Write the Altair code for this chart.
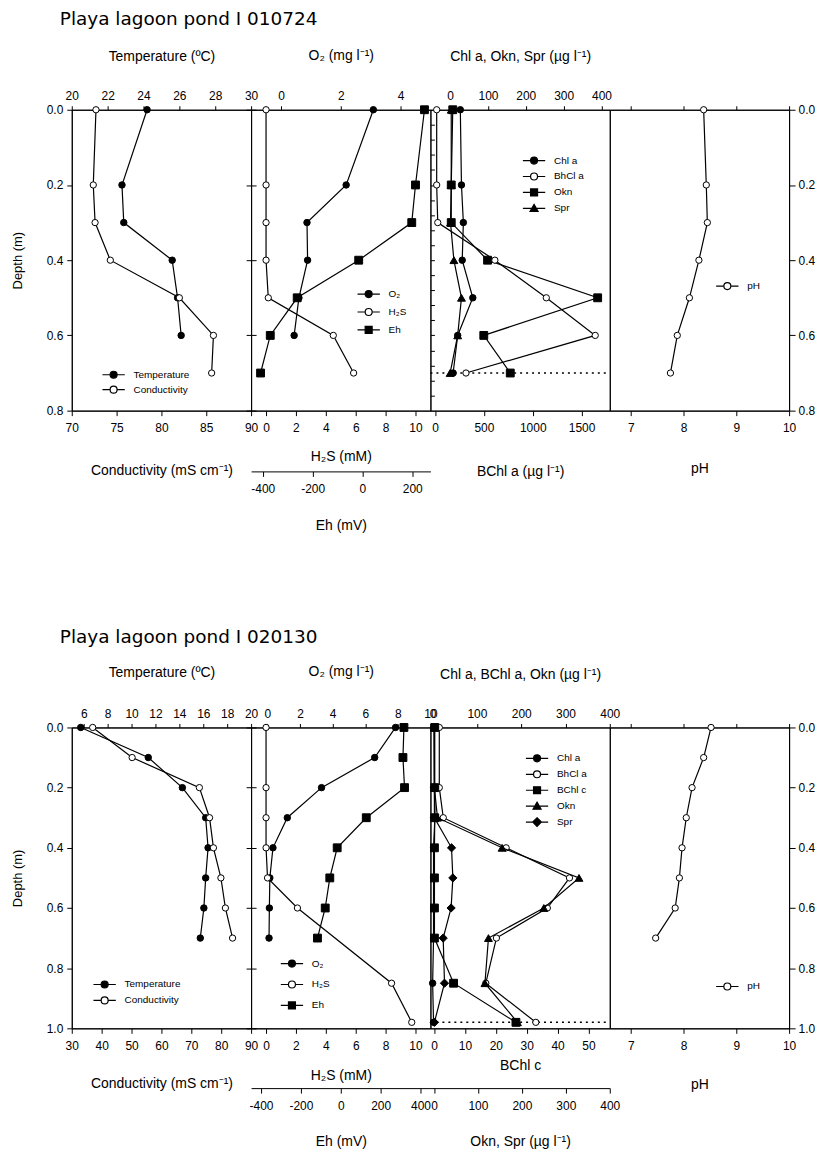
import altair as alt
import pandas as pd

FONT = "Liberation Sans"
TITLE_FONT = "DejaVu Sans"

# ---------------- Playa lagoon pond I 010724 ----------------
title_a = "Playa lagoon pond I 010724"
depth_a = [0.0, 0.2, 0.3, 0.4, 0.5, 0.6, 0.7]
depth_short_a = [0.0, 0.2, 0.3, 0.4, 0.5, 0.6]
temperature_a = [24.2, 22.8, 22.9, 25.6, 25.9, 26.1]
conductivity_a = [72.7, 72.4, 72.6, 74.3, 82.0, 85.8, 85.6]
o2_a = [3.09, 2.18, 0.87, 0.89, 0.60, 0.44]
h2s_a = [0.0, 0.0, 0.0, 0.0, 0.15, 4.5, 5.86]
eh_a = [249, 213, 198, -15, -262, -370, -409]
chla_a = [27, 30, 35, 32, 60, 20, 8]
bchla_a = [16, 16, 27, 612, 1139, 1640, 316]
okn_a = [7, 3, 3, 99, 390, 89, 159]
spr_a = [3, 3, 1, 10, 30, 20, 0]
ph_a = [8.38, 8.43, 8.45, 8.29, 8.11, 7.88, 7.75]
dotted_a = [0.7]

# ---------------- Playa lagoon pond I 020130 ----------------
title_b = "Playa lagoon pond I 020130"
depth_b = [0.0, 0.1, 0.2, 0.3, 0.4, 0.5, 0.6, 0.7]
temperature_b = [5.75, 11.4, 14.25, 16.2, 16.4, 16.2, 16.05, 15.75]
conductivity_b = [37.0, 50.2, 72.7, 76.1, 77.4, 79.9, 81.4, 83.8]
o2_b = [7.86, 6.58, 3.32, 1.22, 0.34, 0.15, 0.12, 0.10]
h2s_depth_b = [0.0, 0.2, 0.3, 0.4, 0.5, 0.6, 0.85, 0.98]
h2s_b = [0.0, 0.0, 0.0, 0.0, 0.1, 2.1, 8.4, 9.75]
eh_b = [317, 312, 320, 128, -18, -55, -78, -117]
pig_depth_b = [0.0, 0.2, 0.3, 0.4, 0.5, 0.6, 0.7, 0.85, 0.98]
chla_b = [3, 4, 5, 2, 2, 2, 2, 0, 2]
bchla_b = [15, 15, 24, 166, 309, 259, 144, 120, 233]
bchlc_b = [0.2, 0.2, 0.2, 0.1, 0.1, 0.1, 0.1, 6.3, 26.5]
okn_b = [1, 1, 8, 155, 330, 250, 124, 116, 190]
spr_b = [1, 1, 1, 40, 43, 39, 21, 24, 1]
ph_b = [8.52, 8.38, 8.16, 8.05, 7.97, 7.92, 7.84, 7.47]
dotted_b = [0.98]

# ---------------- axis ticks / domains ----------------
depth_ticks_a = [0.0, 0.2, 0.4, 0.6, 0.8]
depth_ticks_b = [0.0, 0.2, 0.4, 0.6, 0.8, 1.0]
minor_ticks_a = [0.04, 0.08, 0.12, 0.16, 0.2, 0.24, 0.28, 0.32, 0.36, 0.4,
                 0.44, 0.48, 0.52, 0.56, 0.6, 0.64, 0.68, 0.72, 0.76]
temp_ticks_a = [20, 22, 24, 26, 28, 30]
temp_ticks_b = [6, 8, 10, 12, 14, 16, 18, 20]
cond_ticks_a = [70, 75, 80, 85, 90]
cond_ticks_b = [30, 40, 50, 60, 70, 80, 90]
o2_ticks_a = [0, 2, 4]
o2_ticks_b = [0, 2, 4, 6, 8, 10]
h2s_ticks = [0, 2, 4, 6, 8, 10]
eh_ticks_a = [-400, -200, 0, 200]
eh_ticks_b = [-400, -200, 0, 200, 400]
chl_ticks = [0, 100, 200, 300, 400]
bchla_ticks = [0, 500, 1000, 1500]
bchlc_ticks = [0, 10, 20, 30, 40, 50]
ph_ticks = [7, 8, 9, 10]

temp_dom_a, temp_dom_b = [20, 30], [5, 20]
cond_dom_a, cond_dom_b = [70, 90], [30, 90]
o2_dom_a, o2_dom_b = [-1, 5], [-1, 10]
h2s_dom = [-1, 11]
eh_dom_a, eh_dom_b = [-447, 273], [-450, 450]
chl_dom_a, chl_dom_b = [-52, 422], [-5, 400]
bchla_dom_a = [-48, 1789]
bchlc_dom_b = [-1.2, 56.9]
oknspr_dom_b = [-8, 400]
ph_dom = [6.6, 10]

PW, PH = 180, 302
NUM_EXPR = "datum.value < 0 ? '-' + format(-datum.value, 'd') : format(datum.value, 'd')"

LEG_PATH = {
    "fcircle": "M-3.2,0H-1M1,0H3.2M1,0A1,1,0,1,1,-1,0A1,1,0,1,1,1,0Z",
    "ocircle": "M-3.2,0H-1M1,0H3.2M1,0A1,1,0,1,1,-1,0A1,1,0,1,1,1,0Z",
    "square": "M-3.2,0H-1M1,0H3.2M-1,-1H1V1H-1Z",
    "triangle": "M-3.2,0H-0.66M0.66,0H3.2M0,-1.15L1.15,0.85H-1.15Z",
    "diamond": "M-3.2,0H-1.2M1.2,0H3.2M0,-1.25L1.25,0L0,1.25L-1.25,0Z",
}
LEG_FILL = {"fcircle": "black", "ocircle": "white", "square": "black",
            "triangle": "black", "diamond": "black"}


def pts_style(kind):
    base = dict(opacity=1, strokeWidth=1, stroke="black", filled=True)
    if kind == "fcircle":
        return dict(base, shape="circle", fill="black", size=42)
    if kind == "ocircle":
        return dict(base, shape="circle", fill="white", size=40)
    if kind == "square":
        return dict(base, shape="square", fill="black", size=62)
    if kind == "triangle":
        return dict(base, shape="triangle-up", fill="black", size=62)
    return dict(base, shape="diamond", fill="black", size=68)


def yscale(ymax):
    return alt.Scale(domain=[0, ymax], reverse=True, nice=False, zero=False)


def xscale(domain):
    return alt.Scale(domain=domain, nice=False, zero=False)


def top_axis(values, title, pad, labels=True):
    if labels:
        return alt.Axis(orient="top", values=values, title=title, titlePadding=pad,
                        tickSize=4, labelPadding=3, labelFlush=False,
                        labelOverlap=False, labelExpr=NUM_EXPR)
    return alt.Axis(orient="top", values=values, title=None, tickSize=4, labels=False)


def bottom_axis(values, title, pad, offset=0):
    return alt.Axis(orient="bottom", values=values, title=title, titlePadding=pad,
                    tickSize=5, labelPadding=7, labelFlush=False, offset=offset,
                    labelOverlap=False, labelExpr=NUM_EXPR)


def y_left(ticks):
    return alt.Axis(orient="left", values=ticks, format=".1f", title="Depth (m)",
                    titleFontSize=13, titlePadding=22, tickSize=5, labelPadding=4,
                    labelFlush=False)


def y_right_labels(ticks):
    return alt.Axis(orient="right", values=ticks, format=".1f", title=None,
                    tickSize=6, labelPadding=3, labelFlush=False)


def y_ticks(orient, ticks, size):
    return alt.Axis(orient=orient, values=ticks, labels=False, title=None,
                    tickSize=size, domain=False)


def series(depths, values, kind, domain, ysc, xaxis=None, yaxes=()):
    """Line + markers of one profile; optional extra invisible layers carrying y axes."""
    data = pd.DataFrame({"depth": depths, "value": values})
    xs = xscale(domain)
    y_plain = alt.Y("depth:Q", scale=ysc, axis=None)
    layers = [
        alt.Chart(data).mark_line(color="black", strokeWidth=1.2).encode(
            x=alt.X("value:Q", scale=xs, axis=xaxis), y=y_plain, order=alt.Order("depth:Q")),
        alt.Chart(data).mark_point(**pts_style(kind)).encode(
            x=alt.X("value:Q", scale=xs, axis=None), y=y_plain),
    ]
    for yax in yaxes:
        layers.append(alt.Chart(data).mark_point(opacity=0).encode(
            x=alt.X("value:Q", scale=xs, axis=None),
            y=alt.Y("depth:Q", scale=ysc, axis=yax)))
    return layers


def x_axis_only(values, domain, ysc, axis):
    data = pd.DataFrame({"value": values, "depth": [0.0] * len(values)})
    return alt.Chart(data).mark_point(opacity=0).encode(
        x=alt.X("value:Q", scale=xscale(domain), axis=axis),
        y=alt.Y("depth:Q", scale=ysc, axis=None))


def legend_layer(names, kinds, domain, ysc, lx, ly, gap):
    data = pd.DataFrame({"series": names})
    leg = alt.Legend(orient="none", legendX=lx, legendY=ly, title=None,
                     labelFont=FONT, labelFontSize=10, labelColor="black",
                     symbolSize=49, symbolStrokeWidth=1.2,
                     symbolOffset=7, labelOffset=15, clipHeight=12,
                     rowPadding=gap - 12, padding=0)
    n = len(names)
    return alt.Chart(data).mark_point(filled=True, opacity=1).encode(
        x=alt.X("value:Q", scale=xscale(domain), axis=None),
        y=alt.Y("depth:Q", scale=ysc, axis=None),
        shape=alt.Shape("series:N", scale=alt.Scale(domain=names, range=[LEG_PATH[k] for k in kinds]), legend=leg),
        fill=alt.Fill("series:N", scale=alt.Scale(domain=names, range=[LEG_FILL[k] for k in kinds]), legend=leg),
        stroke=alt.Stroke("series:N", scale=alt.Scale(domain=names, range=["black"] * n), legend=leg),
    ).transform_filter("false")


def dotted(depths, domain, ysc):
    data = pd.DataFrame({"depth": depths})
    return alt.Chart(data).mark_rule(color="black", strokeWidth=1.6, strokeDash=[2, 4]).encode(
        x=alt.XDatum(domain[0], type="quantitative", scale=xscale(domain), axis=None),
        x2=alt.X2Datum(domain[1]),
        y=alt.Y("depth:Q", scale=ysc, axis=None))


def panel(*groups):
    layers = []
    for g in groups:
        if isinstance(g, list):
            layers += g
        else:
            layers.append(g)
    return alt.layer(*layers).resolve_scale(x="independent").resolve_axis(
        y="independent").properties(width=PW, height=PH)


# ---------------- top figure ----------------
ya = yscale(0.8)
p1a = panel(
    series(depth_short_a, temperature_a, "fcircle", temp_dom_a, ya,
           top_axis(temp_ticks_a, "Temperature (ºC)", 26),
           yaxes=[y_left(depth_ticks_a), y_ticks("right", depth_ticks_a, 5)]),
    series(depth_a, conductivity_a, "ocircle", cond_dom_a, ya,
           bottom_axis(cond_ticks_a, "Conductivity (mS cm⁻¹)", 30)),
    legend_layer(["Temperature", "Conductivity"], ["fcircle", "ocircle"], cond_dom_a, ya, 30, 260, 15),
)
p2a = panel(
    series(depth_short_a, o2_a, "fcircle", o2_dom_a, ya,
           top_axis(o2_ticks_a, "O₂ (mg l⁻¹)", 27),
           yaxes=[y_ticks("left", depth_ticks_a, 5), y_ticks("right", minor_ticks_a, 4)]),
    series(depth_a, h2s_a, "ocircle", h2s_dom, ya, bottom_axis(h2s_ticks, "H₂S (mM)", 16)),
    series(depth_a, eh_a, "square", eh_dom_a, ya, bottom_axis(eh_ticks_a, "Eh (mV)", 24, offset=61)),
    legend_layer(["O₂", "H₂S", "Eh"], ["fcircle", "ocircle", "square"], h2s_dom, ya, 106, 179, 18),
)
p3a = panel(
    dotted(dotted_a, chl_dom_a, ya),
    series(depth_a, chla_a, "fcircle", chl_dom_a, ya,
           top_axis(chl_ticks, "Chl a, Okn, Spr  (µg l⁻¹)", 26)),
    series(depth_a, okn_a, "square", chl_dom_a, ya),
    series(depth_a, spr_a, "triangle", chl_dom_a, ya),
    series(depth_a, bchla_a, "ocircle", bchla_dom_a, ya,
           bottom_axis(bchla_ticks, "BChl a (µg l⁻¹)", 31)),
    legend_layer(["Chl a", "BhCl a", "Okn", "Spr"],
                 ["fcircle", "ocircle", "square", "triangle"], chl_dom_a, ya, 92, 45, 16),
)
p4a = panel(
    x_axis_only(ph_ticks, ph_dom, ya, top_axis(ph_ticks, None, 0, labels=False)),
    series(depth_a, ph_a, "ocircle", ph_dom, ya, bottom_axis(ph_ticks, "pH", 28),
           yaxes=[y_right_labels(depth_ticks_a)]),
    legend_layer(["pH"], ["ocircle"], ph_dom, ya, 106, 171, 16),
)

# ---------------- bottom figure ----------------
yb = yscale(1.0)
p1b = panel(
    series(depth_b, temperature_b, "fcircle", temp_dom_b, yb,
           top_axis(temp_ticks_b, "Temperature (ºC)", 28),
           yaxes=[y_left(depth_ticks_b), y_ticks("right", depth_ticks_b, 5)]),
    series(depth_b, conductivity_b, "ocircle", cond_dom_b, yb,
           bottom_axis(cond_ticks_b, "Conductivity (mS cm⁻¹)", 25)),
    legend_layer(["Temperature", "Conductivity"], ["fcircle", "ocircle"], cond_dom_b, yb, 21, 252, 16),
)
p2b = panel(
    series(depth_b, o2_b, "fcircle", o2_dom_b, yb,
           top_axis(o2_ticks_b, "O₂ (mg l⁻¹)", 29),
           yaxes=[y_ticks("left", depth_ticks_b, 5)]),
    series(h2s_depth_b, h2s_b, "ocircle", h2s_dom, yb, bottom_axis(h2s_ticks, "H₂S (mM)", 17)),
    series(depth_b, eh_b, "square", eh_dom_b, yb, bottom_axis(eh_ticks_b, "Eh (mV)", 24, offset=60)),
    legend_layer(["O₂", "H₂S", "Eh"], ["fcircle", "ocircle", "square"], h2s_dom, yb, 29, 231, 21),
)
p3b = panel(
    dotted(dotted_b, chl_dom_b, yb),
    series(pig_depth_b, chla_b, "fcircle", chl_dom_b, yb,
           top_axis(chl_ticks, "Chl a, BChl a, Okn  (µg l⁻¹)", 26)),
    series(pig_depth_b, bchla_b, "ocircle", chl_dom_b, yb),
    series(pig_depth_b, bchlc_b, "square", bchlc_dom_b, yb,
           bottom_axis(bchlc_ticks, "BChl  c", 7)),
    series(pig_depth_b, okn_b, "triangle", oknspr_dom_b, yb,
           bottom_axis(chl_ticks, "Okn, Spr (µg l⁻¹)", 24, offset=60)),
    series(pig_depth_b, spr_b, "diamond", oknspr_dom_b, yb),
    legend_layer(["Chl a", "BhCl a", "BChl c", "Okn", "Spr"],
                 ["fcircle", "ocircle", "square", "triangle", "diamond"], chl_dom_b, yb, 95, 25, 16),
)
p4b = panel(
    x_axis_only(ph_ticks, ph_dom, yb, top_axis(ph_ticks, None, 0, labels=False)),
    series(depth_b, ph_b, "ocircle", ph_dom, yb, bottom_axis(ph_ticks, "pH", 26),
           yaxes=[y_right_labels(depth_ticks_b)]),
    legend_layer(["pH"], ["ocircle"], ph_dom, yb, 106, 254, 16),
)


def fig_title(text, offset):
    return alt.TitleParams(text=text, anchor="start", frame="group", font=TITLE_FONT,
                           fontSize=18.5, fontWeight="normal", color="black", offset=offset, dx=-12)


top = alt.hconcat(p1a, p2a, p3a, p4a, spacing=0, bounds="flush").properties(
    title=fig_title(title_a, 20)).resolve_scale(shape="independent", fill="independent",
                                                 stroke="independent")
bottom = alt.hconcat(p1b, p2b, p3b, p4b, spacing=0, bounds="flush").properties(
    title=fig_title(title_b, 18)).resolve_scale(shape="independent", fill="independent",
                                                 stroke="independent")

chart = alt.vconcat(top, bottom, spacing=95).resolve_scale(
    shape="independent", fill="independent", stroke="independent"
).properties(
    padding={"left": 2, "top": 0, "right": 2, "bottom": 2}
).configure_view(
    stroke="black", strokeWidth=1
).configure_axis(
    grid=False, domainColor="black", tickColor="black", labelColor="black",
    titleColor="black", labelFont=FONT, titleFont=FONT, labelFontSize=12,
    titleFontSize=14, titleFontWeight="normal", domainWidth=1, tickWidth=1
)

chart.save("out.html", embed_options={"renderer": "svg", "actions": False})
